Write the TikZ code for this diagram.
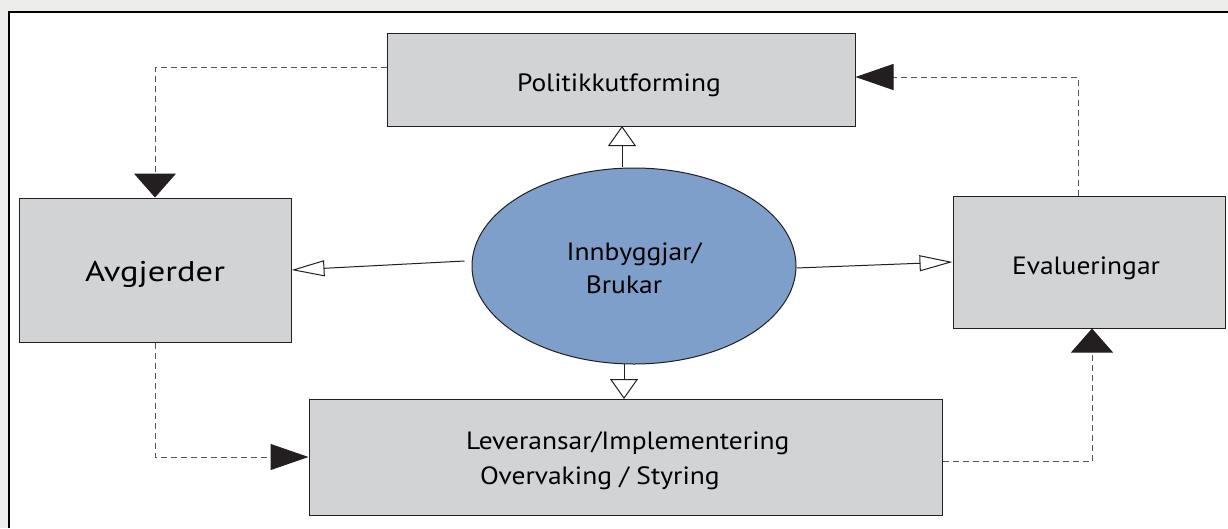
\documentclass[tikz,border=0pt]{standalone}
\usepackage{fontspec}
\setmainfont[FakeStretch=1.1]{PT Sans}
\usetikzlibrary{arrows.meta,shapes.geometric}
\definecolor{bggray}{HTML}{EDEDEB}
\definecolor{boxgray}{HTML}{D1D3D4}
\definecolor{edge}{HTML}{231F20}
\definecolor{ellblue}{HTML}{7F9FCB}
\definecolor{dashgray}{HTML}{555555}
\newcommand{\lowertext}[2]{\raisebox{-#1}[\height][\depth]{#2}}
\tikzset{
  labelfont/.style={font=\fontsize{25}{35}\selectfont},
  box/.style={draw=edge, fill=boxgray, line width=1pt, inner sep=0pt, labelfont},
  openh/.style={draw=edge, line width=1pt, -{Triangle[open, length=33pt, width=16pt, line width=1pt]}},
  openv/.style={draw=edge, line width=1pt, -{Triangle[open, length=20pt, width=28pt, line width=1pt]}},
  dashline/.style={draw=dashgray, line width=1pt, dash pattern=on 6pt off 4pt},
  dashh/.style={dashline, -{Triangle[length=38pt, width=26pt, color=edge]}},
  dashv/.style={dashline, -{Triangle[length=24pt, width=42pt, color=edge]}},
}
\begin{document}
\begin{tikzpicture}[x=1pt,y=-1pt]
\useasboundingbox (0,0) rectangle (1228,528);
\fill[bggray] (0,0) rectangle (1228,528);
\fill[white] (9,12) rectangle (1228,528);
\draw[black, line width=2.5pt] (9,528) -- (9,12) -- (1228,12);

\node[box, minimum width=468pt, minimum height=93pt] (pol) at (621,79.5) {\lowertext{6pt}{\hspace*{-4pt}Politikkutforming}};
\node[box, minimum width=272pt, minimum height=144pt] (avg) at (155,270) {\lowertext{4pt}{\scalebox{1.14}{\scalebox{1.1}[1]{Avgjerder}}}};
\node[box, minimum width=272pt, minimum height=132pt] (eva) at (1089,262) {\lowertext{6pt}{\hspace*{-6pt}Evalueringar}};
\node[box, minimum width=633pt, minimum height=116pt] (lev) at (625.5,457) {};
\node[labelfont, anchor=west, align=left, inner sep=0pt] (levtext) at (466,461) {Leveransar/Implementering\\\hspace*{14pt}Overvaking / Styring};
\node[ellipse, draw=edge, fill=ellblue, line width=1pt, minimum width=324pt, minimum height=196pt, inner sep=0pt, align=center, labelfont] (inn) at (634,266) {\lowertext{2pt}{Innbyggjar/}\\[-2pt]\lowertext{2pt}{\hspace*{-20pt}Brukar}};

\coordinate (ut) at (622,167);
\coordinate (pt) at (622,126);
\draw[openv] (ut) -- (pt);
\coordinate (db) at (624,364);
\coordinate (lt) at (624,399);
\draw[openv] (db) -- (lt);
\draw[openh] ([xshift=-7pt,yshift=5pt]inn.west) -- (avg.east |- 0,270);
\draw[openh] ([yshift=-2pt]inn.east) -- (eva.west |- 0,262);

\draw[dashv] (pol.west |- 0,67) -| (avg.north);
\draw[dashh] (avg.south) |- (lev.west);
\draw[dashv] (lev.east |- 0,461) -| (eva.south -| 1092,0);
\draw[dashh] (eva.north -| 1078,0) |- (pol.east |- 0,77);
\end{tikzpicture}
\end{document}
